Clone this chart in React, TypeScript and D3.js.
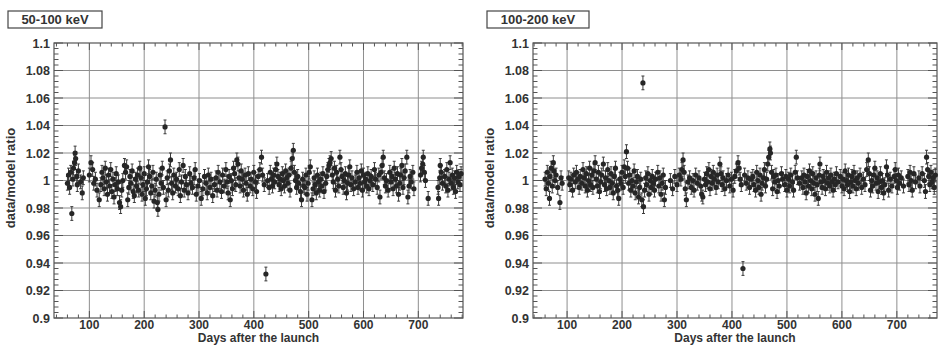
import React, { useEffect, useRef } from 'react'
import { select, scaleLinear, range, Selection } from 'd3'

const WIDTH = 941
const HEIGHT = 346

const xTicks = [100, 200, 300, 400, 500, 600, 700]
const yTicks = [0.9, 0.92, 0.94, 0.96, 0.98, 1, 1.02, 1.04, 1.06, 1.08, 1.1]
const yTickLabels = ['0.9', '0.92', '0.94', '0.96', '0.98', '1', '1.02', '1.04', '1.06', '1.08', '1.1']

const panelTitles = ['50-100 keV', '100-200 keV']
const xTitle = 'Days after the launch'
const yTitle = 'data/model ratio'

// typical 1-sigma error on each ratio point
const ratioErr = [0.005, 0.005]

// [day, data/model ratio]
const lowBand: [number, number][] = [
  [60, 0.998], [62, 1.004], [64, 0.995], [66, 1.006], [68, 0.976], [70, 1.001], [71, 1.009], [73, 1.013],
  [74, 1.02], [75, 1.016], [77, 1.003], [78, 0.997], [80, 1.007], [84, 0.999], [87, 0.991], [89, 1.002],
  [100, 1.004], [103, 1.013], [106, 1.008], [108, 0.998], [111, 1.001], [114, 0.993], [118, 0.986], [121, 0.997],
  [123, 1.006], [125, 1.002], [127, 0.994], [129, 1.009], [131, 0.999], [133, 0.99], [135, 1.004], [137, 0.996],
  [139, 1.008], [141, 0.992], [143, 1.001], [145, 0.988], [147, 0.997], [149, 1.005], [151, 0.994], [153, 0.999],
  [155, 0.984], [157, 0.981], [159, 0.993], [161, 1.0], [164, 1.011], [166, 1.006], [168, 1.01], [170, 0.986],
  [172, 0.995], [174, 1.003], [176, 0.998], [178, 1.007], [180, 0.992], [182, 0.989], [184, 1.001], [186, 0.996],
  [188, 1.004], [190, 0.993], [192, 1.009], [194, 1.002], [196, 0.99], [198, 0.997], [200, 1.005], [202, 0.987],
  [204, 0.994], [206, 0.999], [208, 1.01], [210, 1.003], [212, 0.991], [214, 0.996], [216, 1.006], [218, 0.985],
  [220, 0.993], [222, 1.001], [224, 0.984], [225, 0.979], [227, 0.99], [229, 1.004], [231, 0.998], [233, 1.009],
  [235, 0.995], [238, 1.039], [240, 0.986], [242, 1.002], [244, 0.993], [246, 1.007], [248, 1.015], [250, 0.998],
  [252, 0.991], [254, 1.004], [257, 0.996], [259, 1.001], [262, 0.994], [264, 1.008], [266, 0.989], [268, 0.999],
  [271, 1.011], [273, 0.993], [275, 1.003], [277, 0.997], [280, 0.991], [283, 1.005], [285, 0.998], [288, 0.995],
  [291, 1.002], [293, 1.008], [295, 0.99], [298, 0.996], [301, 1.0], [304, 0.987], [307, 0.994], [310, 1.003],
  [313, 0.998], [315, 0.991], [317, 1.004], [320, 0.995], [322, 1.001], [325, 0.989], [328, 0.997], [331, 1.002],
  [333, 0.993], [335, 1.006], [338, 0.999], [341, 0.992], [343, 1.004], [346, 0.996], [349, 1.008], [351, 0.999],
  [353, 0.991], [355, 1.003], [357, 0.986], [359, 1.0], [361, 0.994], [363, 1.009], [365, 1.005], [367, 0.997],
  [369, 1.015], [371, 1.012], [373, 1.002], [375, 0.996], [377, 1.007], [379, 1.001], [381, 0.993], [384, 1.004],
  [386, 0.998], [388, 0.99], [390, 1.005], [393, 0.996], [395, 1.001], [398, 0.994], [400, 1.006], [403, 0.999],
  [405, 0.992], [408, 1.003], [411, 1.008], [414, 1.017], [416, 1.004], [419, 0.997], [422, 0.932], [425, 1.0],
  [428, 0.995], [430, 1.006], [432, 1.001], [434, 0.996], [436, 1.004], [438, 0.999], [440, 1.008], [442, 1.012],
  [444, 1.003], [446, 0.997], [448, 1.001], [450, 0.994], [452, 1.005], [454, 1.0], [456, 0.996], [458, 1.007],
  [460, 1.002], [462, 0.998], [464, 1.004], [466, 0.993], [468, 1.009], [470, 1.016], [472, 1.022], [474, 1.006],
  [476, 1.0], [478, 0.995], [480, 1.003], [482, 0.998], [485, 0.992], [487, 0.986], [489, 1.001], [491, 0.996],
  [493, 0.995], [495, 1.004], [497, 0.99], [499, 0.998], [501, 1.006], [503, 1.01], [506, 0.986], [508, 0.994],
  [510, 1.002], [512, 0.997], [514, 0.991], [516, 1.004], [518, 0.999], [520, 0.993], [522, 1.001], [524, 0.996],
  [526, 1.005], [528, 0.992], [531, 0.998], [533, 1.003], [535, 1.008], [537, 1.011], [539, 1.013], [541, 1.016],
  [543, 1.004], [545, 0.999], [547, 1.009], [549, 0.993], [551, 1.006], [553, 1.001], [555, 0.996], [557, 1.017],
  [559, 1.008], [561, 1.003], [563, 0.995], [565, 1.0], [567, 1.005], [569, 0.991], [571, 0.998], [573, 1.004],
  [575, 1.01], [577, 0.997], [579, 1.002], [582, 0.994], [585, 0.999], [588, 1.006], [590, 0.995], [592, 1.002],
  [594, 0.998], [596, 1.007], [598, 0.993], [600, 1.004], [602, 0.999], [604, 1.001], [606, 0.996], [608, 1.005],
  [610, 0.994], [612, 1.0], [614, 1.003], [617, 0.997], [620, 1.008], [622, 1.001], [625, 0.995], [628, 1.004],
  [630, 0.988], [632, 1.006], [634, 1.011], [636, 1.017], [638, 1.002], [640, 0.996], [642, 1.0], [645, 0.993],
  [648, 1.006], [650, 0.999], [652, 1.003], [654, 0.994], [656, 1.009], [658, 1.001], [660, 0.996], [662, 1.005],
  [664, 0.99], [666, 0.998], [668, 1.004], [670, 1.011], [672, 0.995], [674, 1.002], [676, 1.007], [679, 1.017],
  [681, 0.988], [683, 0.996], [685, 1.003], [687, 0.999], [690, 1.006], [692, 0.994], [704, 1.004], [706, 1.009],
  [708, 1.012], [709, 1.017], [711, 1.006], [713, 1.0], [718, 0.987], [736, 0.995], [737, 0.987], [739, 1.002],
  [740, 1.011], [742, 1.006], [744, 0.998], [748, 1.003], [750, 0.996], [752, 1.008], [754, 0.993], [756, 1.001],
  [758, 1.013], [760, 0.998], [762, 1.004], [764, 0.995], [766, 1.002], [768, 0.992], [770, 1.006], [772, 0.999],
  [774, 1.003], [776, 0.997], [778, 1.005],
]

// [day, data/model ratio]
const highBand: [number, number][] = [
  [60, 1.001], [62, 0.994], [64, 1.006], [66, 0.998], [68, 0.987], [69, 1.003], [71, 1.009], [73, 0.996],
  [75, 1.013], [76, 1.007], [78, 1.0], [80, 1.004], [83, 0.995], [87, 0.984], [89, 1.002], [91, 0.998],
  [103, 1.002], [105, 0.997], [107, 1.001], [110, 0.993], [112, 1.004], [115, 0.999], [117, 1.006], [120, 1.001],
  [122, 0.995], [124, 1.003], [127, 0.998], [129, 1.008], [131, 1.002], [133, 0.996], [135, 1.005], [137, 0.993],
  [139, 1.0], [141, 1.009], [143, 0.997], [145, 1.004], [147, 0.995], [149, 1.007], [151, 1.013], [153, 1.001],
  [155, 0.996], [157, 1.006], [159, 0.992], [161, 0.999], [163, 1.004], [166, 1.012], [168, 0.997], [170, 1.002],
  [172, 0.994], [174, 1.008], [176, 1.0], [178, 0.995], [180, 1.005], [182, 0.998], [184, 0.991], [186, 1.003],
  [188, 1.009], [190, 0.996], [192, 0.993], [194, 0.987], [196, 1.001], [198, 0.998], [200, 1.006], [202, 0.995],
  [204, 1.01], [206, 1.003], [208, 1.021], [210, 1.009], [212, 0.998], [214, 1.004], [216, 0.993], [218, 1.0],
  [220, 0.996], [222, 1.007], [224, 0.991], [226, 0.999], [228, 1.003], [230, 0.988], [232, 0.995], [234, 1.001],
  [236, 0.986], [238, 1.071], [239, 0.981], [241, 0.993], [243, 1.002], [245, 0.997], [247, 1.005], [249, 0.99],
  [251, 1.0], [253, 0.995], [255, 1.003], [257, 0.998], [259, 0.993], [261, 1.001], [265, 1.006], [267, 0.996],
  [269, 1.002], [271, 0.99], [273, 0.998], [275, 1.004], [277, 0.986], [279, 0.995], [288, 1.0], [292, 0.994],
  [296, 1.003], [300, 0.997], [304, 1.004], [307, 1.001], [309, 1.008], [311, 1.015], [313, 1.006], [315, 0.994],
  [317, 0.986], [320, 0.999], [323, 1.002], [326, 0.995], [329, 1.0], [331, 0.993], [334, 1.004], [337, 0.998],
  [340, 1.002], [343, 0.996], [345, 0.99], [347, 0.988], [350, 1.001], [352, 0.997], [354, 1.005], [356, 0.999],
  [358, 1.008], [360, 0.994], [362, 1.003], [364, 0.998], [366, 1.006], [368, 1.001], [371, 0.995], [373, 1.004],
  [375, 0.999], [378, 1.012], [380, 1.005], [382, 0.997], [384, 1.002], [387, 0.994], [390, 1.0], [393, 1.004],
  [396, 0.996], [399, 1.001], [402, 0.993], [405, 1.003], [408, 1.007], [411, 1.013], [413, 1.009], [415, 1.001],
  [417, 0.997], [420, 0.936], [423, 1.004], [426, 0.998], [429, 1.002], [432, 0.995], [435, 1.001], [438, 1.003],
  [440, 0.997], [443, 0.993], [445, 1.006], [447, 1.0], [449, 0.995], [451, 1.004], [453, 0.99], [455, 0.998],
  [457, 1.002], [459, 1.008], [461, 0.996], [463, 1.001], [465, 1.012], [467, 1.017], [469, 1.023], [470, 1.02],
  [472, 1.006], [474, 0.994], [476, 1.003], [478, 0.999], [480, 1.004], [482, 0.992], [484, 1.0], [486, 0.996],
  [490, 1.005], [492, 1.001], [496, 0.997], [498, 1.003], [500, 0.993], [503, 1.001], [505, 0.996], [507, 1.004],
  [510, 0.999], [512, 0.993], [515, 1.006], [517, 1.017], [519, 1.002], [523, 0.998], [527, 1.002], [529, 0.995],
  [531, 1.004], [533, 0.999], [535, 0.991], [537, 1.003], [539, 0.996], [541, 1.007], [543, 1.0], [545, 0.994],
  [547, 1.005], [549, 0.998], [551, 0.99], [553, 1.002], [555, 0.997], [557, 0.987], [559, 1.004], [560, 1.012],
  [562, 0.999], [564, 0.995], [566, 1.003], [568, 1.0], [570, 0.994], [572, 1.006], [574, 0.998], [576, 1.002],
  [578, 0.996], [580, 1.004], [582, 0.999], [584, 0.993], [586, 1.001], [588, 0.997], [590, 1.005], [593, 0.999],
  [597, 1.003], [600, 0.996], [602, 1.001], [604, 0.994], [606, 1.007], [608, 1.0], [610, 0.997], [612, 1.004],
  [614, 0.992], [616, 0.999], [618, 1.003], [620, 0.996], [622, 1.006], [624, 1.0], [626, 0.994], [628, 1.002],
  [630, 0.998], [633, 1.004], [636, 0.995], [639, 1.001], [642, 0.997], [645, 1.008], [648, 1.015], [650, 1.005],
  [652, 0.993], [654, 1.0], [656, 0.996], [658, 1.004], [660, 1.009], [662, 0.998], [664, 1.002], [666, 0.992],
  [668, 0.999], [670, 1.005], [672, 0.995], [674, 1.0], [676, 0.991], [678, 0.997], [681, 1.01], [683, 1.004],
  [685, 0.993], [688, 1.001], [691, 0.996], [695, 1.003], [697, 1.008], [699, 1.0], [701, 0.995], [703, 1.004],
  [705, 0.998], [708, 1.002], [712, 0.996], [720, 1.003], [722, 0.997], [724, 1.006], [726, 1.0], [728, 0.993],
  [731, 1.005], [734, 0.999], [740, 1.002], [742, 0.996], [746, 1.005], [750, 1.0], [752, 0.992], [754, 1.017],
  [756, 1.008], [758, 1.003], [760, 0.997], [762, 1.006], [764, 0.999], [766, 1.002], [768, 0.995], [770, 1.004],
]

type PanelLayout = {
  left: number
  right: number
  domain: [number, number]
  labelRight: number
  yTitleX: number
  box: [number, number, number, number]
}

const TOP = 43
const BOTTOM = 318
const FONT = "'Liberation Sans', Arial, Helvetica, sans-serif"
const INK = '#333'
const FRAME = '#555'
const GRID = '#8e8e8e'

const layouts: PanelLayout[] = [
  { left: 54, right: 463, domain: [35.5, 781.5], labelRight: 50, yTitleX: 15, box: [8, 11, 94, 17] },
  { left: 533, right: 937, domain: [38, 773], labelRight: 529, yTitleX: 494, box: [487, 11, 102, 17] },
]

function drawPanel(
  svg: Selection<SVGSVGElement | null, any, null, undefined>,
  lay: PanelLayout,
  data: [number, number][],
  err: number,
  title: string
): void {
  const x = scaleLinear().domain(lay.domain).range([lay.left, lay.right])
  const y = scaleLinear().domain([0.9, 1.1]).range([BOTTOM, TOP])
  const g = svg.append('g')

  // grid
  g.selectAll('line.gx')
    .data(xTicks)
    .join('line')
    .attr('x1', (d) => x(d))
    .attr('x2', (d) => x(d))
    .attr('y1', TOP)
    .attr('y2', BOTTOM)
    .attr('stroke', GRID)
    .attr('stroke-width', 1)
  g.selectAll('line.gy')
    .data(yTicks.slice(1, -1))
    .join('line')
    .attr('x1', lay.left)
    .attr('x2', lay.right)
    .attr('y1', (d) => y(d))
    .attr('y2', (d) => y(d))
    .attr('stroke', GRID)
    .attr('stroke-width', 1)

  // ticks, inward on all four sides
  const xMinor = range(40, lay.domain[1], 20)
  const yMinor = range(0, 51).map((i) => 0.9 + i * 0.004)
  const tickG = g.append('g').attr('stroke', FRAME).attr('stroke-width', 1)
  xMinor.forEach((v) => {
    const len = v % 100 === 0 ? 7 : 3.5
    tickG.append('line').attr('x1', x(v)).attr('x2', x(v)).attr('y1', BOTTOM).attr('y2', BOTTOM - len)
    tickG.append('line').attr('x1', x(v)).attr('x2', x(v)).attr('y1', TOP).attr('y2', TOP + len)
  })
  yMinor.forEach((v, i) => {
    const len = i % 5 === 0 ? 9 : 4.5
    tickG.append('line').attr('x1', lay.left).attr('x2', lay.left + len).attr('y1', y(v)).attr('y2', y(v))
    tickG.append('line').attr('x1', lay.right).attr('x2', lay.right - len).attr('y1', y(v)).attr('y2', y(v))
  })

  g.append('rect')
    .attr('x', lay.left)
    .attr('y', TOP)
    .attr('width', lay.right - lay.left)
    .attr('height', BOTTOM - TOP)
    .attr('fill', 'none')
    .attr('stroke', FRAME)
    .attr('stroke-width', 1.2)

  // tick labels
  g.selectAll('text.xl')
    .data(xTicks)
    .join('text')
    .attr('x', (d) => x(d))
    .attr('y', 328.5)
    .attr('text-anchor', 'middle')
    .attr('font-family', FONT)
    .attr('font-weight', 'bold')
    .attr('font-size', 12)
    .attr('fill', INK)
    .text((d) => String(d))
  g.selectAll('text.yl')
    .data(yTicks)
    .join('text')
    .attr('x', lay.labelRight)
    .attr('y', (d) => y(d) + 4.5)
    .attr('text-anchor', 'end')
    .attr('font-family', FONT)
    .attr('font-weight', 'bold')
    .attr('font-size', 12.5)
    .attr('fill', INK)
    .text((_d, i) => yTickLabels[i])

  // axis titles
  g.append('text')
    .attr('x', (lay.left + lay.right) / 2)
    .attr('y', 342)
    .attr('text-anchor', 'middle')
    .attr('font-family', FONT)
    .attr('font-weight', 'bold')
    .attr('font-size', 12)
    .attr('fill', INK)
    .text(xTitle)
  g.append('text')
    .attr('transform', `translate(${lay.yTitleX},178) rotate(-90)`)
    .attr('text-anchor', 'middle')
    .attr('font-family', FONT)
    .attr('font-weight', 'bold')
    .attr('font-size', 13)
    .attr('fill', INK)
    .text(yTitle)

  // energy band box
  const [bx, by, bw, bh] = lay.box
  g.append('rect')
    .attr('x', bx)
    .attr('y', by)
    .attr('width', bw)
    .attr('height', bh)
    .attr('fill', 'white')
    .attr('stroke', '#444')
    .attr('stroke-width', 1.2)
  g.append('text')
    .attr('x', bx + bw / 2)
    .attr('y', by + bh / 2 + 4.5)
    .attr('text-anchor', 'middle')
    .attr('font-family', FONT)
    .attr('font-weight', 'bold')
    .attr('font-size', 13)
    .attr('fill', INK)
    .text(title)

  // error bars + points
  const pts = g.append('g')
  pts.selectAll('line.eb')
    .data(data)
    .join('line')
    .attr('x1', (d) => x(d[0]))
    .attr('x2', (d) => x(d[0]))
    .attr('y1', (d) => y(d[1] - err))
    .attr('y2', (d) => y(d[1] + err))
    .attr('stroke', '#3a3a3a')
    .attr('stroke-width', 1)
  const caps = data.flatMap((d) => [d[1] - err, d[1] + err].map((v) => [d[0], v] as [number, number]))
  pts.selectAll('line.cap')
    .data(caps)
    .join('line')
    .attr('x1', (d) => x(d[0]) - 1.5)
    .attr('x2', (d) => x(d[0]) + 1.5)
    .attr('y1', (d) => y(d[1]))
    .attr('y2', (d) => y(d[1]))
    .attr('stroke', '#3a3a3a')
    .attr('stroke-width', 1)
  pts.selectAll('circle')
    .data(data)
    .join('circle')
    .attr('cx', (d) => x(d[0]))
    .attr('cy', (d) => y(d[1]))
    .attr('r', 2.6)
    .attr('fill', '#262626')
}

export default function App(): JSX.Element {
  const svgRef = useRef<SVGSVGElement | null>(null)

  useEffect(() => {
    const svg = select(svgRef.current)
    svg.selectAll('*').remove()
    drawPanel(svg, layouts[0], lowBand, ratioErr[0], panelTitles[0])
    drawPanel(svg, layouts[1], highBand, ratioErr[1], panelTitles[1])
  }, [])

  return (
    <svg
      ref={svgRef}
      width={WIDTH}
      height={HEIGHT}
      style={{ position: 'absolute', left: 0, top: 0, background: 'white' }}
      xmlns="http://www.w3.org/2000/svg"
    />
  )
}
